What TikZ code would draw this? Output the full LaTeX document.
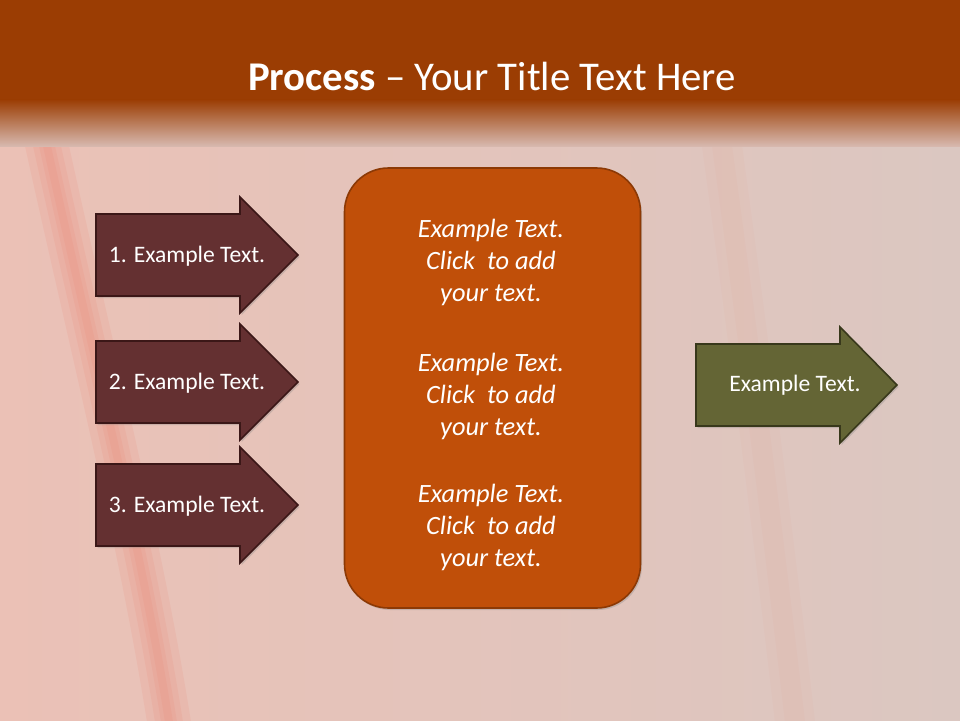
\documentclass[tikz,border=0pt]{standalone}
\usepackage{fontspec}
\setmainfont{Carlito}
\usetikzlibrary{shadows, calc}

\definecolor{bandbrown}{HTML}{9B3D03}
\definecolor{bandfade}{HTML}{D7B8AE}
\definecolor{slidebg}{HTML}{DBC7C1}
\definecolor{streakred}{HTML}{EC7A66}
\definecolor{glowpink}{HTML}{EBC1B6}
\definecolor{maroonfill}{HTML}{643031}
\definecolor{maroonline}{HTML}{3B1717}
\definecolor{olivefill}{HTML}{646535}
\definecolor{oliveline}{HTML}{38381B}
\definecolor{boxfill}{HTML}{C04F09}
\definecolor{boxline}{HTML}{8C3905}

\tikzset{
  arrowshape/.style={line width=1.6pt, line join=miter,
    drop shadow={shadow xshift=1.5pt, shadow yshift=-2pt, opacity=0.3}},
  arrowtext/.style={text=white, inner sep=0pt, font=\fontsize{23.6}{26}\selectfont},
  boxtext/.style={text=white, inner sep=0pt, align=center, font=\fontsize{26.4}{32}\selectfont\itshape},
  streak/.style={streakred, opacity=0.12},
}

\begin{document}
\begin{tikzpicture}[x=1pt, y=-1pt]
  \newcommand\bodyhalf{41}
  \newcommand\headhalf{58}
  \useasboundingbox (0,0) rectangle (960,720);

  % background and soft streaks
  \fill[slidebg] (-2,-2) rectangle (962,722);
  \shade[left color=glowpink, middle color=slidebg!80!glowpink, right color=slidebg] (-2,146) rectangle (962,722);
  \foreach \w in {22, 14, 8, 4}
    \fill[streak] (47-\w,146) .. controls (92-\w,350) and (142-\w,550) .. (169-\w,722) -- (169+\w,722)
      .. controls (142+\w,550) and (92+\w,350) .. (47+\w,146) -- cycle;
  \foreach \w in {20, 10}
    \fill[streakred, opacity=0.04] (722-\w,146) .. controls (750-\w,350) and (775-\w,550) .. (795-\w,722) -- (795+\w,722)
      .. controls (775+\w,550) and (750+\w,350) .. (722+\w,146) -- cycle;

  % title band
  \fill[bandbrown] (-2,-2) rectangle (962,100);
  \shade[top color=bandbrown, bottom color=bandfade] (-2,99.5) rectangle (962,146);
  \node[text=white, font=\fontsize{40.8}{44}\selectfont] (title) at (492,76) {\textbf{Process} -- Your Title Text Here};

  % input arrows
  \foreach \y [count=\n] in {255, 382, 505}{
    \draw[arrowshape, fill=maroonfill, draw=maroonline] (96,\y-\bodyhalf) -- (240,\y-\bodyhalf) -- (240,\y-\headhalf) -- (298,\y)
      -- (240,\y+\headhalf) -- (240,\y+\bodyhalf) -- (96,\y+\bodyhalf) -- cycle;
    \node[arrowtext] (step\n) at (187,\y+1.5) {\n. Example Text.};
  }

  % middle box
  \node[draw=boxline, fill=boxfill, line width=1.6pt, rounded corners=44pt, minimum width=296pt, minimum height=440pt,
    drop shadow={shadow xshift=1.5pt, shadow yshift=-2pt, opacity=0.3}] (midbox) at (492.5,388) {};
  \foreach \y [count=\n] in {262, 396, 527}
    \node[boxtext] (midtext\n) at (491,\y) {Example Text.\\Click\ \ to add\\your text.};

  % output arrow
  \draw[arrowshape, fill=olivefill, draw=oliveline] (696,385-\bodyhalf) -- (840,385-\bodyhalf) -- (840,385-\headhalf) -- (897,385)
    -- (840,385+\headhalf) -- (840,385+\bodyhalf) -- (696,385+\bodyhalf) -- cycle;
  \node[arrowtext] (result) at (795,385) {Example Text.};
\end{tikzpicture}
\end{document}
